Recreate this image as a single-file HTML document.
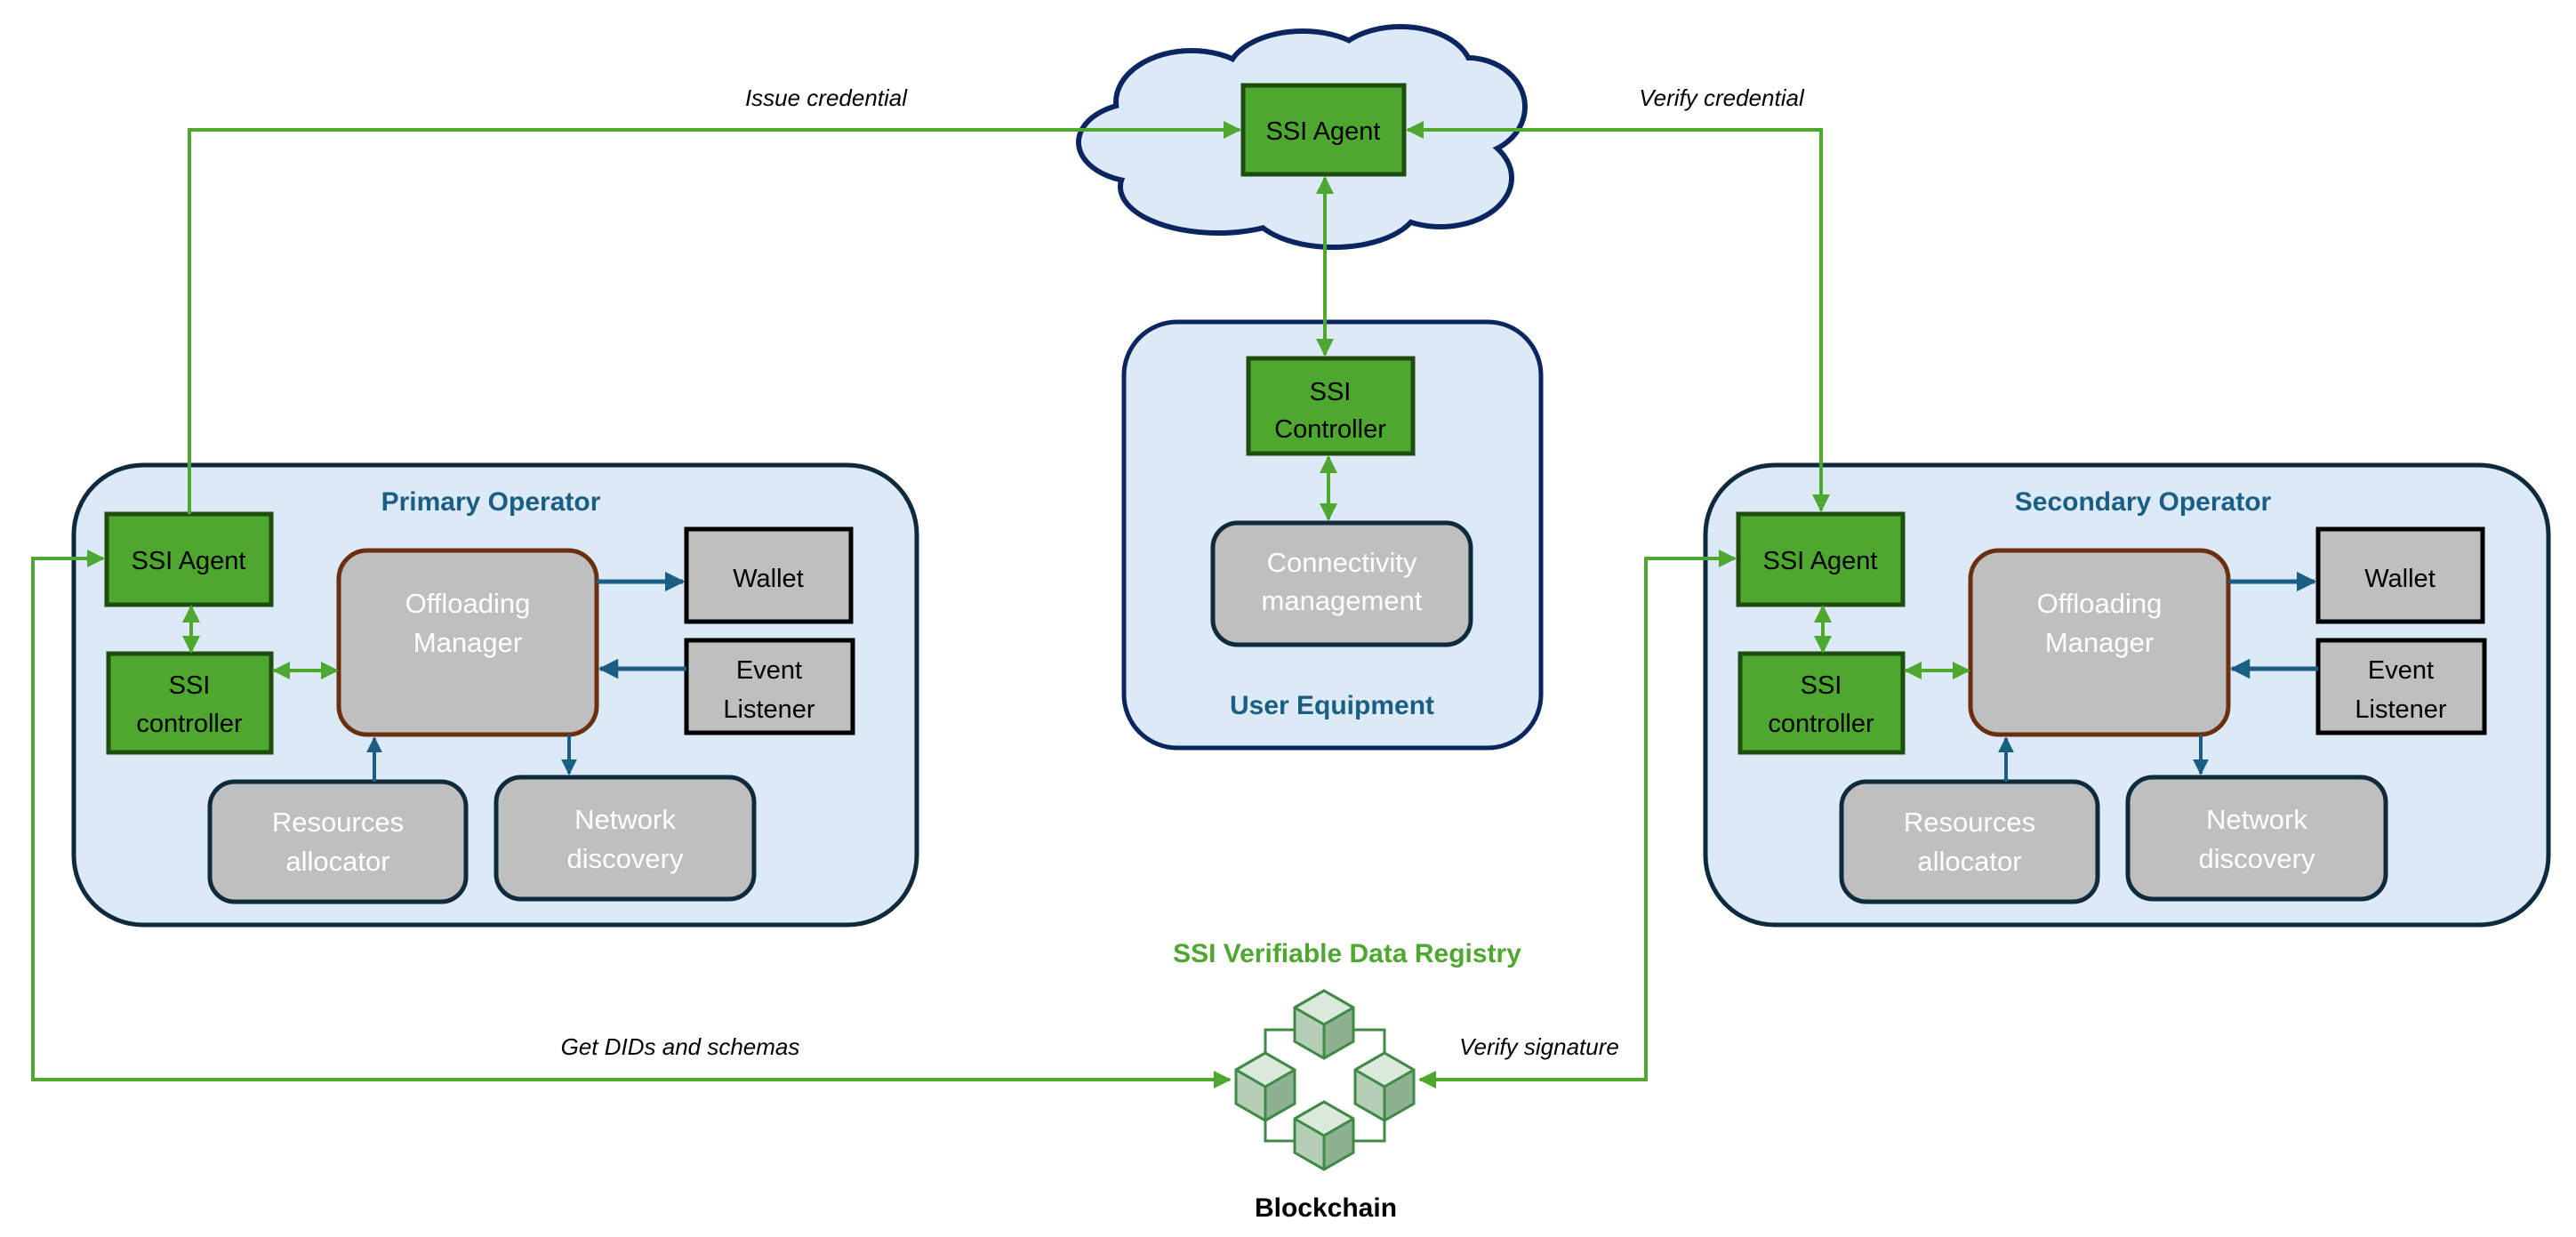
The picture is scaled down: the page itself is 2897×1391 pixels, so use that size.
<!DOCTYPE html>
<html><head><meta charset="utf-8"><style>
html,body{margin:0;padding:0;background:#fff;}
svg{display:block;}
text{font-family:"Liberation Sans",sans-serif;}
</style></head><body>
<svg width="2897" height="1391" viewBox="0 0 2897 1391" xmlns="http://www.w3.org/2000/svg">
<defs>
<marker id="ga" viewBox="0 0 10 10" refX="9" refY="5" markerWidth="5" markerHeight="5" orient="auto-start-reverse" markerUnits="strokeWidth"><path d="M0,0 L10,5 L0,10 z" fill="#4ea72e"/></marker>
<marker id="ba" viewBox="0 0 10 10" refX="9" refY="5" markerWidth="4.5" markerHeight="4.5" orient="auto-start-reverse" markerUnits="strokeWidth"><path d="M0,0 L10,5 L0,10 z" fill="#1b5e84"/></marker>
<g id="op">
  <rect x="83" y="523" width="948" height="517" rx="78" fill="#dce9f6" stroke="#0f2a3c" stroke-width="5"/>
  <rect x="120" y="578" width="185" height="102" fill="#4ea72e" stroke="#1e4d0f" stroke-width="5"/>
  <text x="212" y="640" font-size="29" text-anchor="middle" fill="#000">SSI Agent</text>
  <rect x="122" y="735" width="183" height="111" fill="#4ea72e" stroke="#1e4d0f" stroke-width="5"/>
  <text x="213" y="780" font-size="29" text-anchor="middle" fill="#000">SSI</text>
  <text x="213" y="823" font-size="29" text-anchor="middle" fill="#000">controller</text>
  <rect x="381" y="619" width="290" height="207" rx="32" fill="#bfbfbf" stroke="#6b2f10" stroke-width="5"/>
  <text x="526" y="689" font-size="31" text-anchor="middle" fill="#fff">Offloading</text>
  <text x="526" y="733" font-size="31" text-anchor="middle" fill="#fff">Manager</text>
  <rect x="772" y="595" width="185" height="104" fill="#bfbfbf" stroke="#000" stroke-width="5"/>
  <text x="864" y="660" font-size="29" text-anchor="middle" fill="#000">Wallet</text>
  <rect x="772" y="720" width="187" height="104" fill="#bfbfbf" stroke="#000" stroke-width="5"/>
  <text x="865" y="763" font-size="29" text-anchor="middle" fill="#000">Event</text>
  <text x="865" y="807" font-size="29" text-anchor="middle" fill="#000">Listener</text>
  <rect x="236" y="879" width="288" height="135" rx="28" fill="#bfbfbf" stroke="#0f2a3c" stroke-width="5"/>
  <text x="380" y="935" font-size="31" text-anchor="middle" fill="#fff">Resources</text>
  <text x="380" y="979" font-size="31" text-anchor="middle" fill="#fff">allocator</text>
  <rect x="558" y="874" width="290" height="137" rx="28" fill="#bfbfbf" stroke="#0f2a3c" stroke-width="5"/>
  <text x="703" y="932" font-size="31" text-anchor="middle" fill="#fff">Network</text>
  <text x="703" y="976" font-size="31" text-anchor="middle" fill="#fff">discovery</text>
  <line x1="671" y1="654" x2="768" y2="654" stroke="#1b5e84" stroke-width="5" marker-end="url(#ba)"/>
  <line x1="772" y1="752" x2="675" y2="752" stroke="#1b5e84" stroke-width="5" marker-end="url(#ba)"/>
  <line x1="640" y1="826" x2="640" y2="870" stroke="#1b5e84" stroke-width="4" marker-end="url(#ba)"/>
  <line x1="421" y1="879" x2="421" y2="830" stroke="#1b5e84" stroke-width="4" marker-end="url(#ba)"/>
  <line x1="215" y1="682" x2="215" y2="733" stroke="#4ea72e" stroke-width="4" marker-start="url(#ga)" marker-end="url(#ga)"/>
  <line x1="308" y1="754" x2="379" y2="754" stroke="#4ea72e" stroke-width="4" marker-start="url(#ga)" marker-end="url(#ga)"/>
</g>
</defs>

<use href="#op"/>
<text x="552" y="574" font-size="30" font-weight="bold" text-anchor="middle" fill="#1b5e84">Primary Operator</text>
<use href="#op" x="1835"/>
<text x="2410" y="574" font-size="30" font-weight="bold" text-anchor="middle" fill="#1b5e84">Secondary Operator</text>

<!-- Cloud -->
<g stroke="#0b2560" stroke-width="6" fill="#dce9f6">
  <ellipse cx="1340" cy="115" rx="85" ry="58"/>
  <ellipse cx="1465" cy="85" rx="85" ry="50"/>
  <ellipse cx="1575" cy="80" rx="80" ry="50"/>
  <ellipse cx="1650" cy="120" rx="65" ry="55"/>
  <ellipse cx="1620" cy="200" rx="80" ry="55"/>
  <ellipse cx="1500" cy="230" rx="95" ry="48"/>
  <ellipse cx="1370" cy="210" rx="110" ry="52"/>
  <ellipse cx="1285" cy="160" rx="72" ry="45"/>
</g>
<g fill="#dce9f6">
  <ellipse cx="1340" cy="115" rx="82" ry="55"/>
  <ellipse cx="1465" cy="85" rx="82" ry="47"/>
  <ellipse cx="1575" cy="80" rx="77" ry="47"/>
  <ellipse cx="1650" cy="120" rx="62" ry="52"/>
  <ellipse cx="1620" cy="200" rx="77" ry="52"/>
  <ellipse cx="1500" cy="230" rx="92" ry="45"/>
  <ellipse cx="1370" cy="210" rx="107" ry="49"/>
  <ellipse cx="1285" cy="160" rx="69" ry="42"/>
  <rect x="1290" y="110" width="350" height="130"/>
</g>
<rect x="1398" y="96" width="181" height="100" fill="#4ea72e" stroke="#1e4d0f" stroke-width="5"/>
<text x="1488" y="157" font-size="29" text-anchor="middle" fill="#000">SSI Agent</text>

<!-- User equipment -->
<rect x="1264" y="362" width="469" height="479" rx="60" fill="#dce9f6" stroke="#0b2560" stroke-width="5"/>
<rect x="1404" y="403" width="185" height="107" fill="#4ea72e" stroke="#1e4d0f" stroke-width="5"/>
<text x="1496" y="450" font-size="29" text-anchor="middle" fill="#000">SSI</text>
<text x="1496" y="492" font-size="29" text-anchor="middle" fill="#000">Controller</text>
<rect x="1364" y="588" width="290" height="137" rx="28" fill="#bfbfbf" stroke="#0f2a3c" stroke-width="5"/>
<text x="1509" y="643" font-size="31" text-anchor="middle" fill="#fff">Connectivity</text>
<text x="1509" y="686" font-size="31" text-anchor="middle" fill="#fff">management</text>
<text x="1498" y="803" font-size="30" font-weight="bold" text-anchor="middle" fill="#1b5e84">User Equipment</text>
<line x1="1494" y1="514" x2="1494" y2="584" stroke="#4ea72e" stroke-width="4" marker-start="url(#ga)" marker-end="url(#ga)"/>
<line x1="1490" y1="200" x2="1490" y2="399" stroke="#4ea72e" stroke-width="4" marker-start="url(#ga)" marker-end="url(#ga)"/>

<polyline points="213,578 213,146 1394,146" fill="none" stroke="#4ea72e" stroke-width="4" marker-end="url(#ga)"/>
<polyline points="2048,574 2048,146 1583,146" fill="none" stroke="#4ea72e" stroke-width="4" marker-start="url(#ga)" marker-end="url(#ga)"/>
<text x="929" y="119" font-size="26" font-style="italic" text-anchor="middle" fill="#000">Issue credential</text>
<text x="1936" y="119" font-size="26" font-style="italic" text-anchor="middle" fill="#000">Verify credential</text>

<polyline points="116,628 37,628 37,1214 1383,1214" fill="none" stroke="#4ea72e" stroke-width="4" marker-start="url(#ga)" marker-end="url(#ga)"/>
<polyline points="1951,628 1851,628 1851,1214 1597,1214" fill="none" stroke="#4ea72e" stroke-width="4" marker-start="url(#ga)" marker-end="url(#ga)"/>
<text x="765" y="1186" font-size="26" font-style="italic" text-anchor="middle" fill="#000">Get DIDs and schemas</text>
<text x="1731" y="1186" font-size="26" font-style="italic" text-anchor="middle" fill="#000">Verify signature</text>

<text x="1515" y="1082" font-size="30" font-weight="bold" text-anchor="middle" fill="#4ea72e">SSI Verifiable Data Registry</text>

<g fill="none" stroke="#3f8a46" stroke-width="3">
  <polyline points="1473,1158 1423,1158 1423,1205"/>
  <polyline points="1505,1158 1557,1158 1557,1205"/>
  <polyline points="1423,1250 1423,1283 1473,1283"/>
  <polyline points="1557,1250 1557,1283 1505,1283"/>
</g>
<g id="cube">
  <path d="M1489,1114 L1522,1133 L1522,1171 L1489,1190 L1456,1171 L1456,1133 Z" fill="#dbe8dc" stroke="#3f8a46" stroke-width="3"/>
  <path d="M1456,1133 L1489,1152 L1489,1190 L1456,1171 Z" fill="#b4cfb6"/>
  <path d="M1522,1133 L1489,1152 L1489,1190 L1522,1171 Z" fill="#8db191"/>
  <path d="M1489,1114 L1522,1133 L1522,1171 L1489,1190 L1456,1171 L1456,1133 Z M1456,1133 L1489,1152 L1522,1133 M1489,1152 L1489,1190" fill="none" stroke="#3f8a46" stroke-width="3"/>
</g>
<use href="#cube" x="-66" y="70"/>
<use href="#cube" x="68" y="70"/>
<use href="#cube" x="0" y="125"/>
<text x="1491" y="1368" font-size="30" font-weight="bold" text-anchor="middle" fill="#000">Blockchain</text>
</svg>
</body></html>
